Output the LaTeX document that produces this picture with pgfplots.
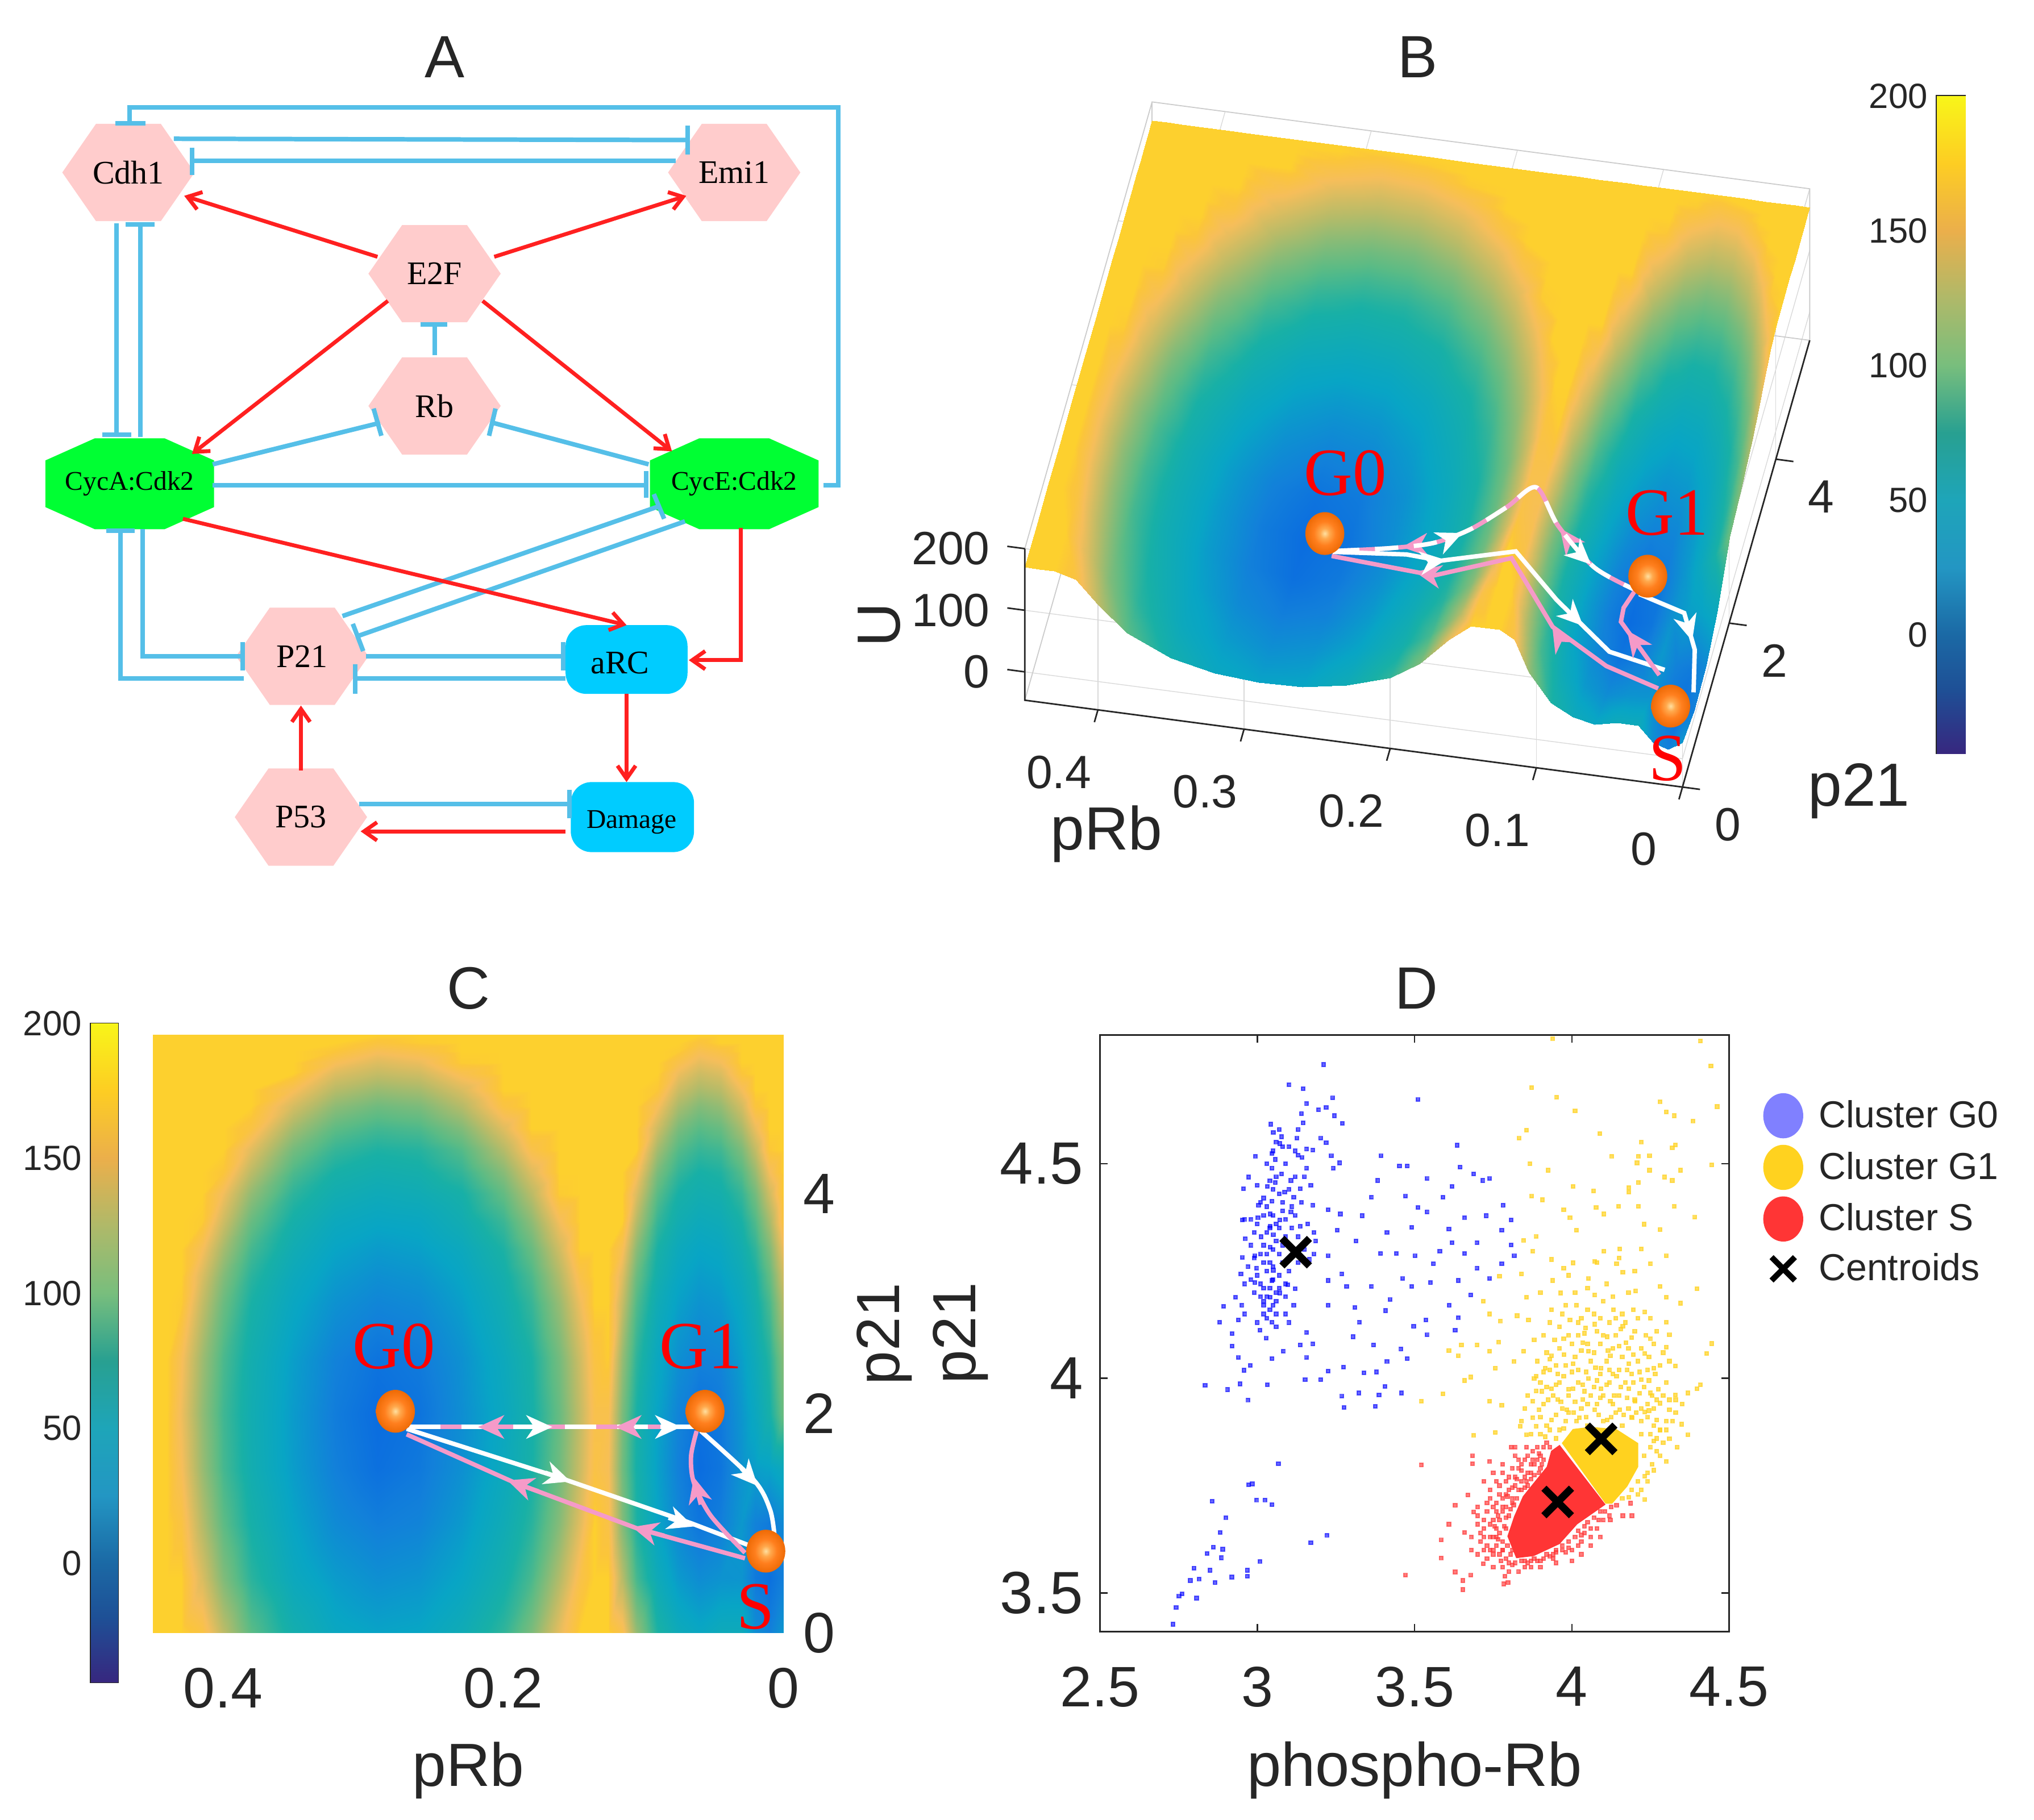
\documentclass[border=0pt]{standalone}
\usepackage{fontspec}
\setmainfont{Liberation Sans}
\newfontfamily\serifnet{Liberation Serif}
\usepackage{pgfplots}
\usepackage{pgfplotstable}
\pgfplotsset{compat=1.18}
\usetikzlibrary{arrows.meta,decorations.markings}

\definecolor{npink}{HTML}{FFCCCC}
\definecolor{ngreen}{HTML}{00FF33}
\definecolor{ncyan}{HTML}{00CCFF}
\definecolor{lblue}{HTML}{55BFE8}
\definecolor{lred}{HTML}{FF2020}
\definecolor{tpink}{HTML}{F59AC8}
\definecolor{axgray}{HTML}{262626}
\definecolor{gg0}{HTML}{8080FF}
\definecolor{gg1}{HTML}{FFD21F}
\definecolor{gs}{HTML}{FF3535}
\definecolor{ba}{HTML}{FFE0A0}
\definecolor{bb}{HTML}{FFA94D}
\definecolor{bc}{HTML}{FF7F1E}
\definecolor{bd}{HTML}{EE6A05}

\pgfdeclareradialshading{oballs}{\pgfpoint{0bp}{0bp}}{color(0bp)=(ba);color(6bp)=(bb);color(14bp)=(bc);color(25bp)=(bd);color(50bp)=(bd)}
\pgfdeclareplotmark{oball}{%
  \pgfpathellipse{\pgfpointorigin}{\pgfqpoint{\pgfplotmarksize}{0pt}}{\pgfqpoint{0pt}{1.1\pgfplotmarksize}}%
  \pgfshadepath{oballs}{0}\pgfusepath{discard}}

\pgfplotsset{
  colormap={landmap}{rgb255(0cm)=(10,107,224); rgb255(1.2cm)=(18,128,218); rgb255(3.4cm)=(8,165,197);
    rgb255(6cm)=(24,176,166); rgb255(8.5cm)=(91,187,133); rgb255(12.2cm)=(183,187,104);
    rgb255(15cm)=(246,190,90); rgb255(16.5cm)=(251,197,58); rgb255(17cm)=(253,208,46)},
  colormap={barmap}{rgb255(0cm)=(55,39,127); rgb255(2.4cm)=(30,80,150); rgb255(4.4cm)=(27,105,165);
    rgb255(6.9cm)=(35,150,195); rgb255(9.4cm)=(30,165,185); rgb255(11.9cm)=(40,160,145);
    rgb255(14.4cm)=(120,190,125); rgb255(16.9cm)=(175,185,105); rgb255(19.4cm)=(235,175,75);
    rgb255(21.9cm)=(253,205,35); rgb255(24.4cm)=(248,245,25)}
}

\tikzset{
  bluel/.style={draw=lblue,line width=1.75pt,line cap=butt,line join=miter},
  redl/.style={draw=lred,line width=1.5pt,-{Straight Barb[length=5pt,width=7pt,line width=1.5pt]}},
  tip/.style={-{Stealth[length=10pt,width=9pt,inset=3pt]}},
  arrone/.style={decoration={markings,mark=at position #1 with {\arrow{Stealth[length=10pt,width=9pt,inset=3pt]}}},postaction={decorate}},
  arrtwo/.style 2 args={decoration={markings,
      mark=at position #1 with {\arrow{Stealth[length=10pt,width=9pt,inset=3pt]}},
      mark=at position #2 with {\arrow{Stealth[length=10pt,width=9pt,inset=3pt]}}},postaction={decorate}},
  arrback/.style 2 args={decoration={markings,
      mark=at position #1 with {\arrowreversed{Stealth[length=10pt,width=9pt,inset=3pt]}},
      mark=at position #2 with {\arrowreversed{Stealth[length=10pt,width=9pt,inset=3pt]}}},postaction={decorate}}
}

% network shapes, all in display pixels of the overlay axis
\newcommand{\hexn}[3]{%
  \fill[npink] (#1-51,#2) -- (#1-25,#2-37.5) -- (#1+25,#2-37.5) -- (#1+51,#2) -- (#1+25,#2+37.5) -- (#1-25,#2+37.5) -- cycle;
  \node[font=\serifnet\fontsize{12.7}{14}\selectfont] at (#1,#2) {#3};}
\newcommand{\octn}[3]{%
  \fill[ngreen] (#1-65,#2-18) -- (#1-27,#2-35) -- (#1+27,#2-35) -- (#1+65,#2-18) -- (#1+65,#2+18) -- (#1+27,#2+35) -- (#1-27,#2+35) -- (#1-65,#2+18) -- cycle;
  \node[font=\serifnet\fontsize{10.4}{12}\selectfont] at (#1,#2) {#3};}
\newcommand{\tbar}[4]{\draw[bluel] (#1,#2) -- (#3,#4);}

% U(pRb,p21)
\pgfplotstableread[row sep=\\]{
x y z\\
0 0 26\\.01 0 12\\.02 0 20\\.03 0 44\\.045 0 44\\.06 0 37\\.075 0 44\\.09 0 62\\.105 0 108\\.115 0 157\\.125 0 170\\.135 0 170\\.145 0 170\\.16 0 143\\.18 0 98\\.2 0 69\\.23 0 47\\.26 0 35\\.29 0 33\\.32 0 38\\.35 0 54\\.38 0 85\\.4 0 125\\.415 0 161\\.43 0 170\\.44 0 170\\.45 0 170\\
0 .5 12\\.01 .5 3\\.02 .5 8\\.03 .5 24\\.045 .5 23\\.06 .5 19\\.075 .5 27\\.09 .5 45\\.105 .5 77\\.115 .5 122\\.125 .5 170\\.135 .5 170\\.145 .5 158\\.16 .5 120\\.18 .5 78\\.2 .5 55\\.23 .5 35\\.26 .5 24\\.29 .5 21\\.32 .5 28\\.35 .5 41\\.38 .5 67\\.4 .5 100\\.415 .5 137\\.43 .5 170\\.44 .5 170\\.45 .5 170\\
0 1 18\\.01 1 9\\.02 1 13\\.03 1 26\\.045 1 11\\.06 1 6\\.075 1 16\\.09 1 34\\.105 1 62\\.115 1 101\\.125 1 159\\.135 1 170\\.145 1 141\\.16 1 102\\.18 1 66\\.2 1 47\\.23 1 27\\.26 1 14\\.29 1 11\\.32 1 18\\.35 1 34\\.38 1 58\\.4 1 86\\.415 1 121\\.43 1 161\\.44 1 170\\.45 1 170\\
0 1.5 42\\.01 1.5 33\\.02 1.5 30\\.03 1.5 23\\.045 1.5 6\\.06 1.5 1\\.075 1.5 12\\.09 1.5 31\\.105 1.5 58\\.115 1.5 94\\.125 1.5 152\\.135 1.5 159\\.145 1.5 131\\.16 1.5 93\\.18 1.5 59\\.2 1.5 41\\.23 1.5 21\\.26 1.5 8\\.29 1.5 3\\.32 1.5 12\\.35 1.5 29\\.38 1.5 52\\.4 1.5 77\\.415 1.5 110\\.43 1.5 151\\.44 1.5 170\\.45 1.5 170\\
0 2 93\\.01 2 58\\.02 2 39\\.03 2 25\\.045 2 8\\.06 2 4\\.075 2 14\\.09 2 33\\.105 2 60\\.115 2 98\\.125 2 156\\.135 2 156\\.145 2 128\\.16 2 90\\.18 2 57\\.2 2 39\\.23 2 20\\.26 2 5\\.29 2 1\\.32 2 10\\.35 2 28\\.38 2 51\\.4 2 75\\.415 2 107\\.43 2 147\\.44 2 170\\.45 2 170\\
0 2.5 103\\.01 2.5 65\\.02 2.5 45\\.03 2.5 30\\.045 2.5 15\\.06 2.5 13\\.075 2.5 21\\.09 2.5 38\\.105 2.5 68\\.115 2.5 109\\.125 2.5 168\\.135 2.5 161\\.145 2.5 133\\.16 2.5 95\\.18 2.5 60\\.2 2.5 42\\.23 2.5 22\\.26 2.5 9\\.29 2.5 5\\.32 2.5 13\\.35 2.5 30\\.38 2.5 53\\.4 2.5 79\\.415 2.5 112\\.43 2.5 152\\.44 2.5 170\\.45 2.5 170\\
0 3 122\\.01 3 78\\.02 3 54\\.03 3 39\\.045 3 26\\.06 3 23\\.075 3 31\\.09 3 47\\.105 3 81\\.115 3 128\\.125 3 170\\.135 3 170\\.145 3 147\\.16 3 109\\.18 3 71\\.2 3 50\\.23 3 30\\.26 3 18\\.29 3 15\\.32 3 22\\.35 3 37\\.38 3 60\\.4 3 91\\.415 3 127\\.43 3 168\\.44 3 170\\.45 3 170\\
0 3.25 134\\.01 3.25 88\\.02 3.25 60\\.03 3.25 45\\.045 3.25 32\\.06 3.25 29\\.075 3.25 36\\.09 3.25 54\\.105 3.25 91\\.115 3.25 139\\.125 3.25 170\\.135 3.25 170\\.145 3.25 158\\.16 3.25 120\\.18 3.25 79\\.2 3.25 55\\.23 3.25 35\\.26 3.25 24\\.29 3.25 21\\.32 3.25 28\\.35 3.25 42\\.38 3.25 67\\.4 3.25 101\\.415 3.25 137\\.43 3.25 170\\.44 3.25 170\\.45 3.25 170\\
0 3.5 148\\.01 3.5 100\\.02 3.5 69\\.03 3.5 52\\.045 3.5 38\\.06 3.5 35\\.075 3.5 42\\.09 3.5 60\\.105 3.5 104\\.115 3.5 153\\.125 3.5 170\\.135 3.5 170\\.145 3.5 170\\.16 3.5 133\\.18 3.5 90\\.2 3.5 62\\.23 3.5 41\\.26 3.5 31\\.29 3.5 28\\.32 3.5 34\\.35 3.5 49\\.38 3.5 77\\.4 3.5 115\\.415 3.5 151\\.43 3.5 170\\.44 3.5 170\\.45 3.5 170\\
0 3.75 164\\.01 3.75 116\\.02 3.75 81\\.03 3.75 60\\.045 3.75 46\\.06 3.75 43\\.075 3.75 51\\.09 3.75 71\\.105 3.75 121\\.115 3.75 170\\.125 3.75 170\\.135 3.75 170\\.145 3.75 170\\.16 3.75 149\\.18 3.75 105\\.2 3.75 73\\.23 3.75 50\\.26 3.75 38\\.29 3.75 36\\.32 3.75 41\\.35 3.75 57\\.38 3.75 90\\.4 3.75 132\\.415 3.75 168\\.43 3.75 170\\.44 3.75 170\\.45 3.75 170\\
0 4 170\\.01 4 133\\.02 4 95\\.03 4 71\\.045 4 55\\.06 4 52\\.075 4 59\\.09 4 84\\.105 4 138\\.115 4 170\\.125 4 170\\.135 4 170\\.145 4 170\\.16 4 168\\.18 4 123\\.2 4 88\\.23 4 58\\.26 4 48\\.29 4 45\\.32 4 51\\.35 4 68\\.38 4 107\\.4 4 148\\.415 4 170\\.43 4 170\\.44 4 170\\.45 4 170\\
0 4.2 170\\.01 4.2 149\\.02 4.2 110\\.03 4.2 83\\.045 4.2 63\\.06 4.2 59\\.075 4.2 70\\.09 4.2 97\\.105 4.2 153\\.115 4.2 170\\.125 4.2 170\\.135 4.2 170\\.145 4.2 170\\.16 4.2 170\\.18 4.2 139\\.2 4.2 103\\.23 4.2 70\\.26 4.2 56\\.29 4.2 53\\.32 4.2 59\\.35 4.2 80\\.38 4.2 124\\.4 4.2 165\\.415 4.2 170\\.43 4.2 170\\.44 4.2 170\\.45 4.2 170\\
0 4.4 170\\.01 4.4 166\\.02 4.4 127\\.03 4.4 98\\.045 4.4 75\\.06 4.4 71\\.075 4.4 82\\.09 4.4 114\\.105 4.4 170\\.115 4.4 170\\.125 4.4 170\\.135 4.4 170\\.145 4.4 170\\.16 4.4 170\\.18 4.4 157\\.2 4.4 121\\.23 4.4 82\\.26 4.4 65\\.29 4.4 62\\.32 4.4 71\\.35 4.4 95\\.38 4.4 141\\.4 4.4 170\\.415 4.4 170\\.43 4.4 170\\.44 4.4 170\\.45 4.4 170\\
0 4.6 170\\.01 4.6 170\\.02 4.6 145\\.03 4.6 116\\.045 4.6 90\\.06 4.6 84\\.075 4.6 97\\.09 4.6 132\\.105 4.6 170\\.115 4.6 170\\.125 4.6 170\\.135 4.6 170\\.145 4.6 170\\.16 4.6 170\\.18 4.6 170\\.2 4.6 140\\.23 4.6 100\\.26 4.6 80\\.29 4.6 76\\.32 4.6 86\\.35 4.6 114\\.38 4.6 161\\.4 4.6 170\\.415 4.6 170\\.43 4.6 170\\.44 4.6 170\\.45 4.6 170\\
0 4.8 170\\.01 4.8 170\\.02 4.8 164\\.03 4.8 134\\.045 4.8 108\\.06 4.8 101\\.075 4.8 116\\.09 4.8 151\\.105 4.8 170\\.115 4.8 170\\.125 4.8 170\\.135 4.8 170\\.145 4.8 170\\.16 4.8 170\\.18 4.8 170\\.2 4.8 161\\.23 4.8 121\\.26 4.8 98\\.29 4.8 93\\.32 4.8 105\\.35 4.8 135\\.38 4.8 170\\.4 4.8 170\\.415 4.8 170\\.43 4.8 170\\.44 4.8 170\\.45 4.8 170\\
0 4.95 170\\.01 4.95 170\\.02 4.95 170\\.03 4.95 149\\.045 4.95 123\\.06 4.95 117\\.075 4.95 131\\.09 4.95 166\\.105 4.95 170\\.115 4.95 170\\.125 4.95 170\\.135 4.95 170\\.145 4.95 170\\.16 4.95 170\\.18 4.95 170\\.2 4.95 170\\.23 4.95 137\\.26 4.95 115\\.29 4.95 110\\.32 4.95 122\\.35 4.95 152\\.38 4.95 170\\.4 4.95 170\\.415 4.95 170\\.43 4.95 170\\.44 4.95 170\\.45 4.95 170\\
0 5.1 170\\.01 5.1 170\\.02 5.1 170\\.03 5.1 165\\.045 5.1 138\\.06 5.1 132\\.075 5.1 146\\.09 5.1 170\\.105 5.1 170\\.115 5.1 170\\.125 5.1 170\\.135 5.1 170\\.145 5.1 170\\.16 5.1 170\\.18 5.1 170\\.2 5.1 170\\.23 5.1 155\\.26 5.1 133\\.29 5.1 128\\.32 5.1 139\\.35 5.1 170\\.38 5.1 170\\.4 5.1 170\\.415 5.1 170\\.43 5.1 170\\.44 5.1 170\\.45 5.1 170\\
0 5.2 170\\.01 5.2 170\\.02 5.2 170\\.03 5.2 170\\.045 5.2 149\\.06 5.2 143\\.075 5.2 157\\.09 5.2 170\\.105 5.2 170\\.115 5.2 170\\.125 5.2 170\\.135 5.2 170\\.145 5.2 170\\.16 5.2 170\\.18 5.2 170\\.2 5.2 170\\.23 5.2 168\\.26 5.2 145\\.29 5.2 139\\.32 5.2 152\\.35 5.2 170\\.38 5.2 170\\.4 5.2 170\\.415 5.2 170\\.43 5.2 170\\.44 5.2 170\\.45 5.2 170\\
0 5.3 170\\.01 5.3 170\\.02 5.3 170\\.03 5.3 170\\.045 5.3 160\\.06 5.3 154\\.075 5.3 168\\.09 5.3 170\\.105 5.3 170\\.115 5.3 170\\.125 5.3 170\\.135 5.3 170\\.145 5.3 170\\.16 5.3 170\\.18 5.3 170\\.2 5.3 170\\.23 5.3 170\\.26 5.3 158\\.29 5.3 152\\.32 5.3 165\\.35 5.3 170\\.38 5.3 170\\.4 5.3 170\\.415 5.3 170\\.43 5.3 170\\.44 5.3 170\\.45 5.3 170\\
0 5.38 170\\.01 5.38 170\\.02 5.38 170\\.03 5.38 170\\.045 5.38 170\\.06 5.38 163\\.075 5.38 170\\.09 5.38 170\\.105 5.38 170\\.115 5.38 170\\.125 5.38 170\\.135 5.38 170\\.145 5.38 170\\.16 5.38 170\\.18 5.38 170\\.2 5.38 170\\.23 5.38 170\\.26 5.38 168\\.29 5.38 163\\.32 5.38 170\\.35 5.38 170\\.38 5.38 170\\.4 5.38 170\\.415 5.38 170\\.43 5.38 170\\.44 5.38 170\\.45 5.38 170\\
0 5.45 170\\.01 5.45 170\\.02 5.45 170\\.03 5.45 170\\.045 5.45 170\\.06 5.45 170\\.075 5.45 170\\.09 5.45 170\\.105 5.45 170\\.115 5.45 170\\.125 5.45 170\\.135 5.45 170\\.145 5.45 170\\.16 5.45 170\\.18 5.45 170\\.2 5.45 170\\.23 5.45 170\\.26 5.45 170\\.29 5.45 170\\.32 5.45 170\\.35 5.45 170\\.38 5.45 170\\.4 5.45 170\\.415 5.45 170\\.43 5.45 170\\.44 5.45 170\\.45 5.45 170\\
}\landscape

\begin{document}
\begin{tikzpicture}
\useasboundingbox (0,0) rectangle (784pt,701.5pt);

% panel A and the titles: overlay axis in display pixels
\begin{axis}[at={(0pt,0pt)},anchor=south west,scale only axis,width=784pt,height=701.5pt,
  xmin=0,xmax=1568,ymin=0,ymax=1403,y dir=reverse,hide axis,clip=false]
\hexn{99}{133}{Cdh1}
\hexn{566}{133}{Emi1}
\hexn{335}{211}{E2F}
\hexn{335}{313}{Rb}
\hexn{233}{506}{P21}
\hexn{232}{630}{P53}
\octn{100}{373}{CycA:Cdk2}
\octn{566}{373}{CycE:Cdk2}
\fill[ncyan,rounded corners=8pt] (436,482) rectangle (530,535);
\node[font=\serifnet\fontsize{12.7}{14}\selectfont] at (478,511) {aRC};
\fill[ncyan,rounded corners=8pt] (440,603) rectangle (535,657);
\node[font=\serifnet\fontsize{10.4}{12}\selectfont] at (487,634) {Damage};
% inhibition lines
\draw[bluel] (635,374) -- (646,374) -- (646,83) -- (100,83) -- (100,95);
\tbar{89}{95}{112}{95}
\draw[bluel] (134,107) -- (530,108); \tbar{530}{97}{530}{119}
\draw[bluel] (521,124) -- (148,124); \tbar{148}{114}{148}{135}
\draw[bluel] (90,172) -- (90,335); \tbar{79}{335}{101}{335}
\draw[bluel] (108,337) -- (108,173); \tbar{97}{173}{119}{173}
\draw[bluel] (335,274) -- (335,250); \tbar{324}{250}{345}{250}
\draw[bluel] (164,358) -- (293,326); \tbar{288}{315}{294}{336}
\draw[bluel] (500,358) -- (380,326); \tbar{382}{315}{377}{336}
\draw[bluel] (164,374) -- (498,374); \tbar{498}{363}{498}{384}
\draw[bluel] (264,475) -- (509,390); \tbar{504}{381}{512}{400}
\draw[bluel] (528,402) -- (277,490); \tbar{272}{481}{280}{502}
\draw[bluel] (110,408) -- (110,506) -- (187,506); \tbar{187}{495}{187}{517}
\draw[bluel] (188,523) -- (93,523) -- (93,409); \tbar{82}{409}{104}{409}
\draw[bluel] (282,506) -- (434,506); \tbar{434}{495}{434}{517}
\draw[bluel] (436,523) -- (274,523); \tbar{274}{512}{274}{535}
\draw[bluel] (277,620) -- (439,620); \tbar{439}{609}{439}{631}
% activation arrows
\draw[redl] (291,198) -- (142,151);
\draw[redl] (381,198) -- (529,151);
\draw[redl] (299,232) -- (148,350);
\draw[redl] (372,232) -- (518,348);
\draw[redl] (141,400) -- (483,482);
\draw[redl] (571,407) -- (571,509) -- (531,509);
\draw[redl] (483,535) -- (483,603);
\draw[redl] (232,594) -- (232,544);
\draw[redl] (436,641) -- (278,641);
% titles and the labels of panel B
\node[font=\fontsize{23}{26}\selectfont,text=axgray] at (343,44) {A};
\node[font=\fontsize{23}{26}\selectfont,text=axgray] at (1093,44) {B};
\node[font=\fontsize{23}{26}\selectfont,text=axgray] at (361,762) {C};
\node[font=\fontsize{23}{26}\selectfont,text=axgray] at (1092,762) {D};
\node[font=\fontsize{23.5}{26}\selectfont,text=axgray,rotate=90] at (678,482) {U};
\node[font=\fontsize{23.5}{26}\selectfont,text=axgray] at (853,643) {pRb};
\node[font=\fontsize{23.5}{26}\selectfont,text=axgray] at (1433,610) {p21};
\end{axis}

% panel B
\begin{axis}[at={(648.5pt,409pt)},anchor=origin,
  x={(-563.3pt,74.4pt)},y={(9pt,31.6pt)},z={(0pt,0.2375pt)},
  xmin=0,xmax=.45,ymin=0,ymax=5.45,zmin=-46,zmax=200,
  xtick={0,.1,.2,.3,.4},ytick={0,2,4},ztick={0,100,200},
  grid=major,grid style={draw=gray!30,line width=.3pt},
  axis line style={draw=none},tick style={draw=none},
  /pgf/number format/assume math mode=true,
  xticklabel style={font=\fontsize{18}{22}\selectfont,text=axgray,/pgf/number format/fixed,anchor=center,xshift=-15pt,yshift=-24pt},
  yticklabel style={font=\fontsize{18}{22}\selectfont,text=axgray,anchor=center,xshift=17.5pt,yshift=-14.5pt},
  zticklabel style={font=\fontsize{18}{22}\selectfont,text=axgray,anchor=east,xshift=-10pt},
  colormap name=landmap,point meta min=0,point meta max=170,clip=false]
\draw[gray!40,line width=.4pt] (axis cs:.45,0,200) -- (axis cs:.45,5.45,200) -- (axis cs:0,5.45,200) -- (axis cs:0,5.45,-46) -- (axis cs:.45,5.45,-46) -- (axis cs:.45,0,-46);
\draw[gray!40,line width=.4pt] (axis cs:.45,5.45,200) -- (axis cs:.45,5.45,-46);
\addplot3[surf,shader=interp,mesh/cols=27,z buffer=reverse y seq] table {\landscape};
\draw[axgray,line width=.6pt] (axis cs:.45,0,200) -- (axis cs:.45,0,-46) -- (axis cs:0,0,-46) -- (axis cs:0,5.45,-46);
\draw[axgray,line width=.6pt] (axis cs:.4,0,-46) -- (axis cs:.4,-.15,-46) (axis cs:.3,0,-46) -- (axis cs:.3,-.15,-46) (axis cs:.2,0,-46) -- (axis cs:.2,-.15,-46) (axis cs:.1,0,-46) -- (axis cs:.1,-.15,-46) (axis cs:0,0,-46) -- (axis cs:0,-.15,-46);
\draw[axgray,line width=.6pt] (axis cs:0,0,-46) -- (axis cs:-.012,0,-46) (axis cs:0,2,-46) -- (axis cs:-.012,2,-46) (axis cs:0,4,-46) -- (axis cs:-.012,4,-46);
\draw[axgray,line width=.6pt] (axis cs:.45,0,0) -- (axis cs:.462,0,0) (axis cs:.45,0,100) -- (axis cs:.462,0,100) (axis cs:.45,0,200) -- (axis cs:.462,0,200);
\addplot3[tpink,line width=1.7pt,smooth,arrback={.18}{.72}] coordinates {(.267,1.877,4)(.23,1.877,20)(.2,1.877,38)(.175,1.877,68)(.15,1.877,112)(.13,1.877,150)(.115,1.877,92)(.09,1.877,32)(.06,1.877,3)};
\addplot3[white,line width=1.7pt,dash pattern=on 9pt off 6pt,smooth,arrtwo={.35}{.85}] coordinates {(.267,1.877,4)(.23,1.877,20)(.2,1.877,38)(.175,1.877,68)(.15,1.877,112)(.13,1.877,150)(.115,1.877,92)(.09,1.877,32)(.06,1.877,3)};
\addplot3[tpink,line width=1.7pt,arrtwo={.32}{.78}] coordinates {(.0275,.68,15)(.066,.87,14)(.104,.95,55)(.135,1.13,133)(.192,1.37,55)(.269,1.81,4)};
\addplot3[white,line width=1.7pt,arrtwo={.3}{.75}] coordinates {(.269,1.86,4)(.215,1.64,46)(.19,1.54,57)(.135,1.31,120)(.105,1.18,68)(.066,1,20)(.025,.8,30)};
\addplot3[white,line width=1.7pt,arrone={.6}] coordinates {(.059,1.84,4)(.021,1.39,45)(.0095,1.12,25)(.0063,.87,-10)};
\addplot3[tpink,line width=1.7pt,arrone={.55}] coordinates {(.0275,.73,30)(.052,1.07,40)(.064,1.37,20)(.066,1.61,10)(.062,1.84,8)};
\addplot3[only marks,mark=oball,mark size=7.5pt] coordinates {(.277,2.02,10)(.056,2.02,10)(.02,.745,-20)};
\node[font=\serifnet\fontsize{26}{28}\selectfont,text=red] at (axis cs:.263,2.02,112) {G0};
\node[font=\serifnet\fontsize{26}{28}\selectfont,text=red] at (axis cs:.043,2.02,117) {G1};
\node[font=\serifnet\fontsize{26}{28}\selectfont,text=red] at (axis cs:.01,0,-3) {S};
\end{axis}

% colour bar of B
\begin{axis}[at={(746.5pt,411pt)},anchor=south west,scale only axis,width=11pt,height=253.5pt,
  xmin=0,xmax=1,ymin=-44,ymax=200,xtick=\empty,ytick={0,50,100,150,200},
  tick align=inside,ytick pos=left,major tick length=3pt,
  axis line style={draw=axgray,line width=.6pt},tick style={draw=axgray,line width=.4pt},
  /pgf/number format/assume math mode=true,
  yticklabel style={font=\fontsize{13.5}{15}\selectfont,text=axgray},
  colormap name=barmap,point meta min=-44,point meta max=200]
\addplot[surf,shader=interp,mesh/cols=2,point meta=y] table[row sep=\\] {x y\\0 -44\\1 -44\\0 200\\1 200\\};
\end{axis}

% panel C
\begin{axis}[at={(59pt,72pt)},anchor=south west,scale only axis,width=243pt,height=230.5pt,
  x dir=reverse,xmin=0,xmax=.45,ymin=0,ymax=5.45,
  xtick={0,.2,.4},ytick={0,2,4},yticklabel pos=right,
  tick style={draw=none},axis line style={draw=none},
  /pgf/number format/assume math mode=true,
  xticklabel style={font=\fontsize{22}{24}\selectfont,text=axgray,/pgf/number format/fixed,yshift=-10pt},
  yticklabel style={font=\fontsize{22}{24}\selectfont,text=axgray,xshift=4pt},
  xlabel={pRb},ylabel={p21},
  xlabel style={font=\fontsize{23.5}{26}\selectfont,text=axgray,at={(axis description cs:.5,-.23)},anchor=center},
  ylabel style={font=\fontsize{23.5}{26}\selectfont,text=axgray,at={(axis description cs:1.16,.5)},anchor=center,rotate=0},
  colormap name=landmap,point meta min=0,point meta max=170,clip=false]
\addplot[surf,shader=interp,mesh/cols=27,point meta=\thisrow{z}] table[x=x,y=y] {\landscape};
\addplot[tpink,line width=1.7pt] coordinates {(.267,1.877)(.061,1.877)};
\addplot[white,line width=1.7pt,dash pattern=on 12pt off 8pt] coordinates {(.267,1.877)(.061,1.877)};
\addplot[tpink,line width=1.7pt] coordinates {(.0275,.68)(.104,.95)(.192,1.37)(.269,1.81)};
\addplot[white,line width=1.7pt] coordinates {(.269,1.86)(.161,1.42)(.066,1)(.025,.8)};
\addplot[white,line width=1.7pt,smooth] coordinates {(.059,1.84)(.021,1.39)(.0095,1.12)(.0063,.87)};
\addplot[tpink,line width=1.7pt,smooth] coordinates {(.0275,.73)(.052,1.07)(.064,1.37)(.066,1.61)(.062,1.84)};
% arrow heads along the paths
\addplot[tpink,line width=1.7pt,tip] coordinates {(.205,1.877)(.218,1.877)};
\addplot[white,line width=1.7pt,tip] coordinates {(.18,1.877)(.165,1.877)};
\addplot[tpink,line width=1.7pt,tip] coordinates {(.107,1.877)(.12,1.877)};
\addplot[white,line width=1.7pt,tip] coordinates {(.088,1.877)(.073,1.877)};
\addplot[white,line width=1.7pt,tip] coordinates {(.17,1.46)(.152,1.38)};
\addplot[white,line width=1.7pt,tip] coordinates {(.082,1.05)(.064,.97)};
\addplot[tpink,line width=1.7pt,tip] coordinates {(.085,.885)(.108,.965)};
\addplot[tpink,line width=1.7pt,tip] coordinates {(.175,1.29)(.197,1.39)};
\addplot[white,line width=1.7pt,tip] coordinates {(.03,1.5)(.0185,1.34)};
\addplot[tpink,line width=1.7pt,tip] coordinates {(.059,1.17)(.064,1.42)};
\addplot[only marks,mark=oball,mark size=7.5pt] coordinates {(.277,2.02)(.056,2.02)(.0126,.745)};
\node[font=\serifnet\fontsize{26}{28}\selectfont,text=red] at (axis cs:.278,2.61) {G0};
\node[font=\serifnet\fontsize{26}{28}\selectfont,text=red] at (axis cs:.059,2.61) {G1};
\node[font=\serifnet\fontsize{26}{28}\selectfont,text=red] at (axis cs:.02,.24) {S};
\end{axis}

% colour bar of C
\begin{axis}[at={(35pt,53pt)},anchor=south west,scale only axis,width=10.5pt,height=254pt,
  xmin=0,xmax=1,ymin=-44,ymax=200,xtick=\empty,ytick={0,50,100,150,200},
  tick align=inside,ytick pos=left,major tick length=3pt,
  axis line style={draw=axgray,line width=.6pt},tick style={draw=axgray,line width=.4pt},
  /pgf/number format/assume math mode=true,
  yticklabel style={font=\fontsize{13.5}{15}\selectfont,text=axgray},
  colormap name=barmap,point meta min=-44,point meta max=200]
\addplot[surf,shader=interp,mesh/cols=2,point meta=y] table[row sep=\\] {x y\\0 -44\\1 -44\\0 200\\1 200\\};
\end{axis}

% panel D
\begin{axis}[at={(424pt,72.5pt)},anchor=south west,scale only axis,width=242.5pt,height=230pt,
  xmin=2.5,xmax=4.5,ymin=3.41,ymax=4.8,
  xtick={2.5,3,3.5,4,4.5},ytick={3.5,4,4.5},tick align=inside,major tick length=3pt,
  axis line style={draw=axgray,line width=.8pt},tick style={draw=axgray,line width=.6pt},
  /pgf/number format/assume math mode=true,
  xticklabel style={font=\fontsize{22}{24}\selectfont,text=axgray,yshift=-10pt},
  yticklabel style={font=\fontsize{23}{24}\selectfont,text=axgray,xshift=-3pt},
  xlabel={phospho-Rb},ylabel={p21},
  xlabel style={font=\fontsize{23.7}{26}\selectfont,text=axgray,at={(axis description cs:.5,-.2326)},anchor=center},
  ylabel style={font=\fontsize{23.5}{26}\selectfont,text=axgray,at={(axis description cs:-.222,.5)},anchor=center},
  legend cell align=left,
  legend style={draw=none,fill=none,at={(axis description cs:1.041,.912)},anchor=north west,
    font=\fontsize{14.5}{16}\selectfont,row sep=2.5pt,text=axgray},
  clip=true]
\addplot[only marks,mark=square*,mark size=.7pt,color=blue,mark options={opacity=.6,draw=none},
  legend image code/.code={\fill[gg0] (0.15cm,0cm) ellipse (7.5pt and 8.5pt); \path (15.8pt,0pt);}] coordinates {
(2.732,3.427)(2.742,3.466)(2.761,3.498)(2.751,3.493)(2.807,3.488)(2.787,3.529)(2.815,3.532)(2.866,3.524)(2.799,3.558)(2.85,3.553)
(2.84,3.592)(2.86,3.607)(2.89,3.602)(2.886,3.582)(2.919,3.537)(2.968,3.539)(2.968,3.553)(3.008,3.573)(2.882,3.641)(2.9,3.675)
(2.856,3.714)(2.972,3.752)(2.984,3.754)(2.998,3.716)(3.024,3.716)(3.047,3.706)(3.067,3.801)(3.17,3.617)(3.221,3.634)
(3.211,4.731)(3.101,4.684)(3.146,4.675)(3.239,4.654)(3.156,4.64)(3.195,4.626)(3.219,4.631)(3.14,4.617)(3.245,4.612)(3.27,4.594)
(3.146,4.595)(3.043,4.592)(3.051,4.573)(3.077,4.563)(3.126,4.56)(3.201,4.56)(3.071,4.547)(3.156,4.534)(3.219,4.549)(3.176,4.532)
(3.047,4.524)(3.142,4.515)(3.235,4.519)(2.994,4.517)(3.057,4.51)(3.262,4.502)(3.047,4.49)(3.156,4.49)(3.241,4.49)(2.972,4.469)
(3.077,4.476)(3.107,4.461)(3.057,4.456)(3.136,4.442)(2.956,4.442)(3.032,4.447)(3.087,4.434)(3.004,4.403)(3.116,4.422)(3.047,4.413)
(3.176,4.403)(3.225,4.393)(2.952,4.369)(3.002,4.374)(3.041,4.383)(3.071,4.369)(3.041,4.354)(3.107,4.388)(2.962,4.325)(3.012,4.33)
(3.051,4.335)(3.185,4.32)(3.136,4.354)(2.952,4.282)(2.992,4.286)(3.041,4.306)(3.166,4.277)(3.225,4.286)(2.948,4.243)(2.998,4.257)
(3.051,4.252)(3.047,4.228)(3.097,4.218)(2.992,4.223)(3.041,4.189)(3.071,4.199)(3.12,4.209)(3.02,4.18)(2.931,4.189)(2.893,4.168)
(2.951,4.17)(3.02,4.15)(3.116,4.17)(2.88,4.131)(2.94,4.136)(3.047,4.131)(3.008,4.112)(2.92,4.104)(3.028,4.094)(3.156,4.107)
(2.92,4.075)(3.083,4.063)(3.136,4.078)(3.176,4.08)(3.047,4.046)(2.94,4.049)(3.156,4.049)(2.978,4.03)(2.958,4.019)(3.225,4.017)
(2.834,3.984)(2.945,3.987)(3.032,3.985)(2.905,3.974)(3.152,3.997)(3.201,3.997)(2.97,3.949)
(3.274,4.026)(3.339,4.013)(3.379,4.015)(3.406,3.981)(3.323,3.966)(3.268,3.959)(3.387,3.961)(3.458,3.966)(3.276,3.932)(3.375,3.935)
(3.412,4.039)(3.477,4.046)(3.456,4.068)(3.369,4.078)(3.304,4.097)(3.225,4.17)(3.31,4.165)(3.324,4.131)(3.408,4.158)(3.497,4.121)
(3.536,4.136)(3.54,4.102)(3.629,4.112)(3.639,4.141)(3.61,4.17)(3.678,4.194)(3.422,4.184)(3.491,4.214)(3.55,4.223)(3.462,4.233)
(3.363,4.214)(3.284,4.214)(3.225,4.228)(3.268,4.243)(3.392,4.291)(3.314,4.32)(3.442,4.291)(3.501,4.286)(3.56,4.267)(3.639,4.228)
(3.698,4.257)(3.738,4.233)(3.777,4.267)(3.817,4.286)(3.807,4.311)(3.698,4.316)(3.619,4.316)(3.58,4.296)(3.659,4.291)(3.777,4.345)
(3.728,4.379)(3.659,4.374)(3.609,4.348)(3.491,4.352)(3.412,4.34)(3.333,4.379)(3.264,4.383)(3.254,4.345)(3.363,4.422)(3.471,4.425)
(3.511,4.398)(3.54,4.388)(3.59,4.422)(3.619,4.447)(3.54,4.466)(3.383,4.461)(3.452,4.495)(3.477,4.495)(3.393,4.519)(3.645,4.492)
(3.688,4.476)(3.717,4.461)(3.738,4.466)(3.635,4.543)(3.511,4.65)(3.781,4.403)(3.807,4.369)
(3,4.45)(3.02,4.42)(3.05,4.44)(3.08,4.41)(3.1,4.44)(3.12,4.47)(3.06,4.47)(3.03,4.5)(3.09,4.5)(3.11,4.4)(3.14,4.41)(3.02,4.38)
(3,4.36)(2.98,4.37)(2.96,4.37)(3.06,4.36)(3.09,4.37)(3.03,4.34)(3.06,4.32)(3.09,4.33)(3.13,4.33)(3.16,4.36)(3.18,4.34)(2.98,4.31)
(3.01,4.29)(3.04,4.27)(3.07,4.29)(3.1,4.31)(3.15,4.3)(3.18,4.29)(2.97,4.26)(3,4.24)(3.03,4.25)(3.07,4.24)(3.1,4.25)(3.13,4.27)
(2.96,4.22)(2.99,4.2)(3.02,4.21)(3.06,4.2)(3.09,4.19)(3.03,4.19)(3.05,4.17)(3.02,4.17)(3.06,4.18)(3.04,4.16)(2.96,4.15)(3,4.13)
(3.06,4.12)(3.1,4.13)(3.07,4.58)(3.1,4.54)(3.13,4.52)(3.15,4.47)(3.17,4.45)(3.13,4.58)(3.08,4.54)(3.06,4.55)(3.05,4.53)(3.12,4.53)
(3.04,4.46)(3.07,4.43)(3.03,4.4)(3.08,4.39)(3.05,4.38)(3.01,4.41)(3.12,4.38)(3.04,4.35)(3.07,4.35)(2.99,4.34)(3.11,4.35)(3.05,4.3)
(3.02,4.31)(3.08,4.31)(2.99,4.28)(3.03,4.29)(3.12,4.29)(3.02,4.27)(3.05,4.26)(3.08,4.27)(2.98,4.23)(3.05,4.23)(3.09,4.22)(3.01,4.22)
(3.04,4.21)(3.07,4.21)(3.01,4.19)(3.06,4.15)(3.03,4.14)(3.09,4.15)
};
\addlegendentry{Cluster G0}
\addplot[fill=gg1,draw=none,forget plot] coordinates {(3.968,3.849)(4.003,3.882)(4.058,3.887)(4.141,3.882)(4.211,3.849)(4.211,3.794)(4.176,3.748)(4.128,3.708)(4.107,3.708)} -- cycle;
\addplot[only marks,mark=square*,mark size=.7pt,color=gg1,mark options={opacity=.7,draw=none},
  legend image code/.code={\fill[gg1] (0.15cm,0cm) ellipse (7.5pt and 8.5pt); \path (15.8pt,0pt);}] coordinates {
(3.939,4.791)(4.408,4.786)(4.442,4.728)(3.872,4.677)(3.951,4.655)(4.01,4.623)(4.28,4.644)(4.3,4.621)(4.325,4.612)(4.462,4.633)
(4.385,4.599)(3.856,4.578)(3.832,4.56)(4.089,4.57)(4.221,4.55)(4.329,4.544)(4.319,4.537)(4.126,4.517)(4.211,4.517)(4.247,4.519)
(4.207,4.502)(3.866,4.5)(3.925,4.485)(4.247,4.485)(4.444,4.497)(4.345,4.485)(4.294,4.469)(4.319,4.461)(4.211,4.456)(4.181,4.444)
(4.004,4.447)(4.069,4.437)(4.181,4.434)(3.872,4.425)(3.906,4.416)(3.974,4.393)(4.077,4.398)(4.148,4.401)(4.211,4.401)(4.325,4.401)
(4.102,4.383)(3.994,4.374)(4.39,4.376)(4.23,4.359)(4.28,4.347)(4.014,4.345)(3.886,4.331)(3.846,4.321)(4.152,4.301)(4.102,4.296)
(4.221,4.301)(3.876,4.296)(4.3,4.286)(3.935,4.277)(4.004,4.269)(4.073,4.272)(4.142,4.267)(4.25,4.267)(3.974,4.257)(4.162,4.247)
(3.77,4.238)(3.84,4.243)(3.939,4.228)(4.053,4.233)(4.28,4.214)(4.398,4.209)(4.203,4.204)(3.718,4.18)(3.856,4.189)(3.964,4.199)
(4.073,4.194)(4.3,4.189)(4.345,4.175)(3.738,4.15)(3.826,4.146)(3.935,4.16)(4.014,4.17)(4.132,4.16)(4.231,4.155)(3.773,4.133)
(3.862,4.136)(3.994,4.136)(4.073,4.126)(4.162,4.121)(4.3,4.131)(4.043,4.117)(4.112,4.097)(4.25,4.092)(4.31,4.102)(3.649,4.078)
(3.767,4.084)(3.698,4.078)(3.974,4.092)(4.034,4.083)(4.172,4.083)(4.444,4.081)(4.428,4.058)(3.609,4.065)(3.639,4.053)(3.738,4.063)
(3.846,4.063)(3.935,4.053)(4.053,4.063)(4.122,4.053)(4.231,4.058)(4.3,4.073)(3.757,4.024)(3.816,4.039)(3.915,4.024)(4.004,4.034)
(4.093,4.024)(4.181,4.034)(4.26,4.024)(4.329,4.029)(3.659,3.995)(3.678,4.003)(3.886,4.005)(3.974,4.005)(4.053,4)(4.142,4.005)
(4.221,3.997)(4.3,3.99)(4.398,3.976)(4.408,3.985)(4.369,3.966)(3.59,3.964)(3.521,3.947)(3.738,3.947)(3.777,3.937)(3.886,3.971)
(3.935,3.976)(4.004,3.976)(4.093,3.976)(4.181,3.976)(4.25,3.966)(4.329,3.961)(3.876,3.947)(3.955,3.951)(4.034,3.951)(4.122,3.947)
(4.201,3.947)(4.28,3.942)(3.895,3.927)(3.984,3.927)(4.073,3.927)(4.152,3.927)(4.231,3.922)(4.31,3.927)(3.876,3.908)(3.935,3.903)
(4.024,3.908)(4.112,3.903)(4.191,3.908)(4.27,3.903)(4.349,3.893)(3.836,3.888)(3.757,3.874)(3.886,3.888)(3.974,3.883)(4.28,3.879)
(4.369,3.869)(3.688,3.867)(3.856,3.869)(3.915,3.864)(4.26,3.854)(4.31,3.859)(4.335,3.84)(4.28,3.82)(4.3,3.806)(4.26,3.786)
(4.231,3.772)(4.231,3.718)(4.181,3.723)
(3.91,4.1)(3.96,4.12)(4.02,4.1)(4.08,4.11)(4.14,4.1)(4.2,4.11)(3.89,4.04)(3.95,4.03)(4.01,4.05)(4.06,4.04)(4.11,4.04)(4.16,4.05)
(4.21,4.04)(3.9,3.99)(3.96,3.99)(4.02,3.99)(4.07,3.98)(4.12,3.99)(4.17,3.99)(4.23,3.98)(3.91,3.94)(3.97,3.93)(4.03,3.93)(4.08,3.94)
(4.13,3.94)(4.18,3.93)(4.24,3.94)(4.27,3.95)(3.92,3.89)(3.98,3.9)(4.05,3.89)(4.1,3.9)(4.16,3.89)(4.22,3.9)(4.26,3.89)(3.98,4.17)
(4.05,4.16)(4.1,4.18)(4.16,4.15)(4.05,4.21)(3.99,4.24)(4.11,4.22)(4.18,4.2)(4.08,4.27)(4.15,4.28)(4.2,4.25)(3.9,4.2)
(3.84,3.9)(3.85,3.93)(3.86,3.96)(3.87,3.87)(3.9,3.87)(3.93,3.88)(3.95,3.86)(3.96,3.88)(3.99,3.92)(3.99,3.96)(3.94,3.96)(3.92,3.98)
(3.88,4)(3.93,4.02)(3.98,4.03)(4.02,4.02)(4.04,3.97)(4.06,3.96)(4.1,3.96)(4.15,3.96)(4.14,3.92)(4.2,3.95)(4.22,3.93)(4.19,3.91)
(4.24,3.91)(4.26,3.93)(4.29,3.96)(4.31,3.95)(4.28,3.88)(4.27,3.86)(4.25,3.84)(4.3,3.88)(4.32,3.9)(4.33,3.95)(4.23,3.82)(4.24,3.78)
(4.21,3.76)(4.19,3.74)(4.16,3.72)(4.22,3.74)(4.12,4.02)(4.09,4.01)(4.15,4.02)(4.19,4.01)(4.24,4.02)(4.28,4.03)(4.31,4.04)(3.92,4.06)
(3.96,4.07)(4,4.08)(4.05,4.08)(4.09,4.08)(4.13,4.07)(4.18,4.07)(4.22,4.07)(4.26,4.08)(3.88,4.09)(3.93,4.13)(3.97,4.15)(4.03,4.14)
(4.07,4.15)(4.12,4.13)(4.17,4.13)(4.21,4.14)(4.25,4.14)(4.29,4.06)
(3.9,3.91)(3.95,3.915)(4.005,3.92)(4.015,3.9)(4.045,3.91)(4.085,3.915)(4.125,3.91)(4.165,3.915)(4.205,3.92)(4.245,3.925)(3.925,3.95)(3.965,3.945)
(4.01,3.945)(4.05,3.94)(4.09,3.955)(4.135,3.96)(4.175,3.955)(4.215,3.965)(4.255,3.96)(3.905,3.97)(3.95,3.985)(3.99,3.975)(4.035,3.985)(4.08,3.995)
(4.11,3.985)(4.155,3.98)(4.195,3.99)(4.245,3.995)(4.275,3.975)(3.91,4.015)(3.955,4.01)(4,4.015)(4.045,4.015)(4.075,4.025)(4.13,4.01)(4.175,4.02)
(4.215,4.015)(4.265,4.01)(3.93,4.045)(3.975,4.055)(4.03,4.065)(4.07,4.06)(4.115,4.065)(4.15,4.075)(4.195,4.055)(4.245,4.05)(3.945,4.09)(3.99,4.1)
(4.04,4.105)(4.1,4.1)(4.155,4.115)(4.19,4.095)(4.235,4.1)(4.27,4.11)(4.02,4.13)(4.09,4.14)(4.14,4.14)(4.195,4.16)(4.01,4.2)(4.13,4.19)
(4.22,3.87)(4.25,3.87)(4.29,3.85)(4.27,3.83)(4.255,3.8)(4.24,3.76)(4.21,3.73)(4.3,3.9)(4.33,3.92)(4.35,3.94)
};
\addlegendentry{Cluster G1}
\addplot[fill=gs,draw=none,forget plot] coordinates {(3.961,3.845)(3.934,3.831)(3.92,3.794)(3.879,3.757)(3.844,3.725)(3.816,3.678)(3.795,3.632)(3.823,3.581)(3.879,3.586)(3.961,3.614)(4.017,3.66)(4.107,3.706)} -- cycle;
\addplot[only marks,mark=square*,mark size=.7pt,color=gs,mark options={opacity=.65,draw=none},
  legend image code/.code={\fill[gs] (0.15cm,0cm) ellipse (7.5pt and 8.5pt); \path (15.8pt,0pt);}] coordinates {
(3.521,3.798)(3.684,3.82)(3.684,3.801)(3.738,3.806)(3.807,3.84)(3.856,3.84)(3.876,3.83)(3.471,3.542)(3.584,3.624)(3.584,3.581)
(3.609,3.66)(3.629,3.704)(3.669,3.728)(3.688,3.689)(3.659,3.641)(3.629,3.549)(3.653,3.529)(3.653,3.508)(3.678,3.542)(3.718,3.568)
(3.787,3.539)(3.797,3.524)(3.783,3.521)(4.187,3.709)(4.191,3.68)(4.162,3.68)(4.142,3.704)(4.122,3.67)
(3.72,3.76)(3.75,3.78)(3.78,3.8)(3.82,3.82)(3.86,3.82)(3.89,3.84)(3.92,3.85)(3.74,3.72)(3.77,3.75)(3.8,3.77)(3.83,3.79)(3.87,3.8)
(3.7,3.7)(3.73,3.69)(3.76,3.71)(3.79,3.73)(3.82,3.75)(3.85,3.77)(3.7,3.66)(3.72,3.65)(3.75,3.67)(3.78,3.69)(3.81,3.71)(3.68,3.63)
(3.71,3.62)(3.73,3.61)(3.76,3.63)(3.79,3.65)(3.7,3.59)(3.73,3.58)(3.75,3.59)(3.78,3.6)(3.81,3.6)(3.68,3.6)(3.75,3.56)(3.78,3.56)
(3.8,3.55)(3.83,3.55)(3.85,3.56)(3.88,3.58)(3.91,3.58)(3.94,3.59)(3.97,3.6)(4,3.6)(4.03,3.62)(4.06,3.63)(4.08,3.65)(4.1,3.67)
(4.03,3.59)(4,3.575)(3.95,3.57)(3.9,3.56)(4.06,3.61)(4.09,3.63)(4.12,3.68)(3.82,3.84)(3.84,3.8)(3.86,3.78)(3.89,3.81)(3.72,3.6)
(3.74,3.63)(3.76,3.65)(3.78,3.62)(3.77,3.67)(3.8,3.68)(3.79,3.7)(3.81,3.72)(3.83,3.74)(3.84,3.76)(3.82,3.77)(3.86,3.75)(3.87,3.78)
(3.88,3.8)(3.85,3.81)(3.9,3.82)(3.9,3.79)(3.93,3.84)(3.91,3.84)(3.75,3.6)(3.74,3.6)(3.77,3.59)(3.79,3.58)(3.8,3.57)(3.82,3.57)
(3.84,3.575)(3.86,3.57)(3.87,3.575)(3.89,3.575)(3.92,3.59)(3.93,3.585)(3.95,3.6)(3.97,3.61)(3.99,3.62)(4.01,3.63)(4.02,3.645)(4.04,3.655)
(4.05,3.665)(4.07,3.675)(4.09,3.69)(4.02,3.61)(3.98,3.595)(3.94,3.58)(3.72,3.63)(3.71,3.64)(3.7,3.68)(3.72,3.67)(3.74,3.66)(3.76,3.69)
(3.78,3.72)(3.8,3.74)(3.83,3.81)(3.81,3.79)(3.79,3.76)(3.77,3.73)(3.75,3.7)(3.73,3.71)(3.74,3.74)(3.76,3.76)(3.78,3.78)
(3.77,3.64)(3.785,3.655)(3.765,3.625)(3.78,3.6)(3.795,3.61)(3.805,3.59)(3.79,3.675)(3.805,3.695)(3.815,3.705)(3.825,3.72)(3.84,3.74)(3.85,3.745)
(3.855,3.76)(3.87,3.765)(3.88,3.775)(3.895,3.78)(3.905,3.8)(3.91,3.81)(3.875,3.81)(3.895,3.825)(3.84,3.785)(3.825,3.765)(3.81,3.745)(3.795,3.725)
(3.78,3.7)(3.765,3.68)(3.755,3.655)(3.75,3.63)(3.76,3.61)(3.775,3.575)(3.81,3.565)(3.85,3.575)(3.9,3.575)(3.95,3.595)(3.99,3.605)(4.04,3.64)
(4.06,3.65)(4.085,3.67)(4.105,3.69)(4.125,3.7)(4.03,3.635)(3.87,3.56)
};
\addlegendentry{Cluster S}
\addplot[only marks,mark=x,mark size=7.5pt,color=black,mark options={line width=2.8pt},
  legend image code/.code={\draw[black,line width=2.2pt] (0.15cm-4.5pt,-4.5pt) -- (0.15cm+4.5pt,4.5pt) (0.15cm-4.5pt,4.5pt) -- (0.15cm+4.5pt,-4.5pt); \path (15.8pt,0pt);}] coordinates {(3.122,4.294)(4.093,3.859)(3.955,3.712)};
\addlegendentry{Centroids}
\end{axis}
\end{tikzpicture}
\end{document}
